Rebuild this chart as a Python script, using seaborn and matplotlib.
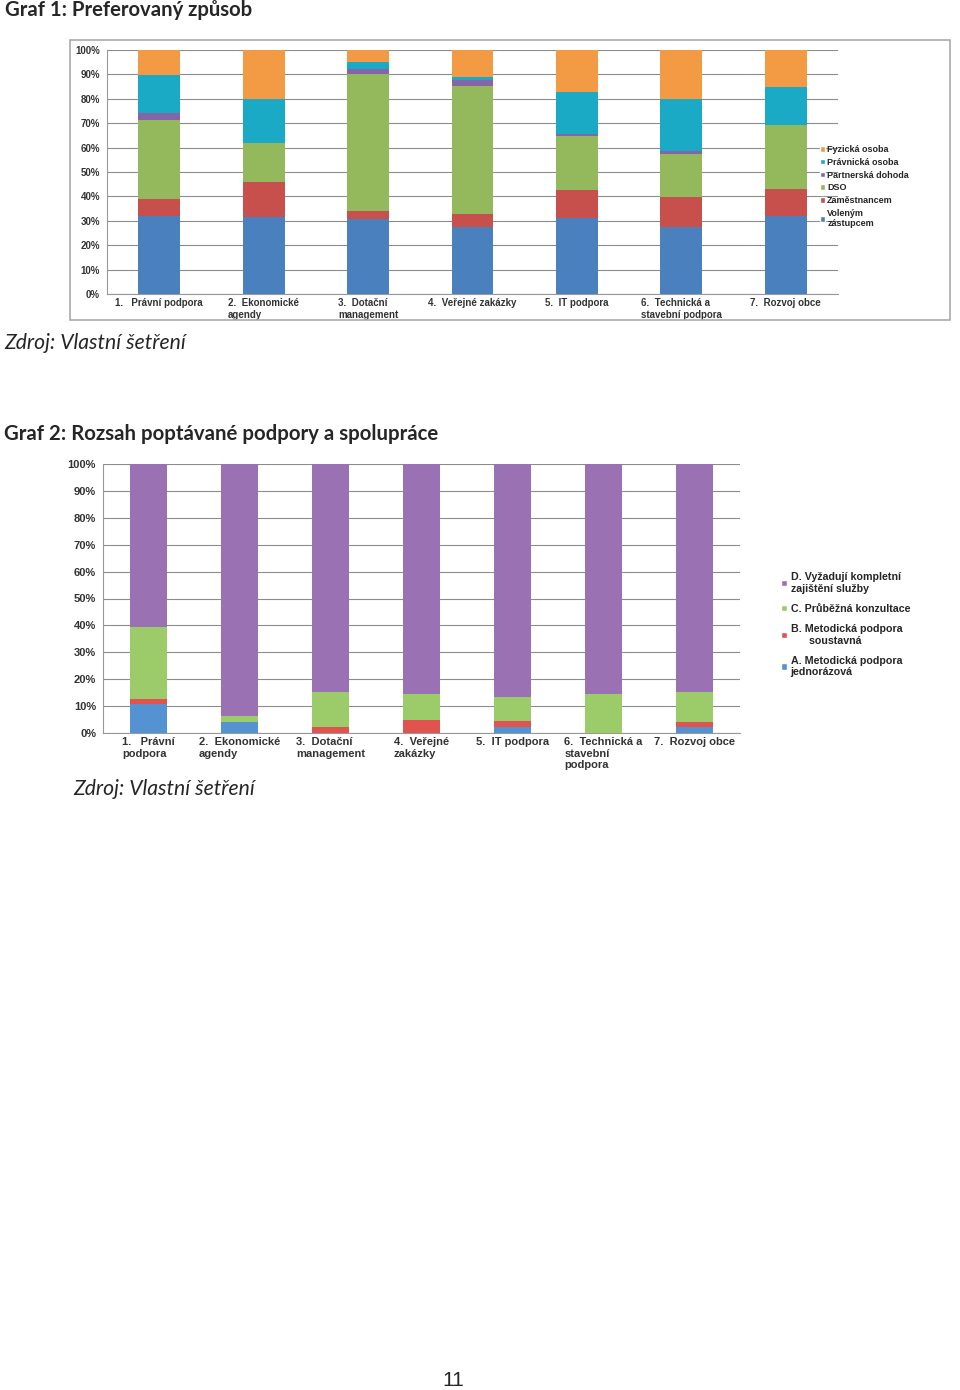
import numpy as np
import matplotlib
matplotlib.use("Agg")
import matplotlib.pyplot as plt
from matplotlib.patches import Rectangle, Patch
import seaborn as sns

# Graf 1 data (percent)
kategorie1 = ["1.   Právní podpora", "2.  Ekonomické\nagendy", "3.  Dotační\nmanagement",
              "4.  Veřejné zakázky", "5.  IT podpora", "6.  Technická a\nstavební podpora",
              "7.  Rozvoj obce"]
volenym = [31.9, 31.7, 30.8, 27.4, 31.2, 27.4, 32.1]
zamestnancem = [7.2, 14.0, 3.1, 5.4, 11.5, 12.5, 11.0]
dso = [32.2, 16.3, 56.4, 52.4, 21.9, 17.6, 26.1]
partnerska = [2.7, 0.0, 2.0, 2.5, 1.1, 1.0, 0.0]
pravnicka = [15.7, 18.0, 2.9, 1.4, 16.9, 21.5, 15.6]
fyzicka = [10.3, 20.0, 4.8, 10.9, 17.4, 20.0, 15.2]

# Graf 2 data (percent)
kategorie2 = ["1.   Právní\npodpora", "2.  Ekonomické\nagendy", "3.  Dotační\nmanagement",
              "4.  Veřejné\nzakázky", "5.  IT podpora", "6.  Technická a\nstavební\npodpora",
              "7.  Rozvoj obce"]
a_jednorazova = [10.6, 4.1, 0.0, 0.0, 2.2, 0.0, 2.2]
b_soustavna = [2.2, 0.0, 2.1, 4.7, 2.1, 0.0, 2.0]
c_konzultace = [26.5, 2.2, 13.2, 9.7, 9.2, 14.5, 11.0]
d_kompletni = [60.7, 93.7, 84.7, 85.6, 86.5, 85.5, 84.8]

sns.set_style("white")
plt.rcParams["font.family"] = ["Liberation Sans", "DejaVu Sans"]

fig = plt.figure(figsize=(9.6, 13.9), dpi=100)
W, H = 960, 1390


def px_axes(x0, y0, x1, y1):
    return fig.add_axes([x0 / W, 1 - y1 / H, (x1 - x0) / W, (y1 - y0) / H])


def stacked(ax, cats, series, labels, colors, fs):
    bottom = np.zeros(len(cats))
    handles = []
    for vals, lab, col in zip(series, labels, colors):
        sns.barplot(x=cats, y=vals, bottom=bottom, color=col, width=0.4, saturation=1,
                    errorbar=None, ax=ax, linewidth=0, zorder=3)
        bottom = bottom + np.array(vals)
        handles.append(Patch(facecolor=col, label=lab))
    ax.set_ylim(0, 100)
    ax.set_xlim(-0.5, len(cats) - 0.5)
    ax.set_yticks(range(0, 101, 10))
    ax.set_yticklabels([f"{v}%" for v in range(0, 101, 10)])
    ax.set_xticks(np.arange(-0.5, len(cats), 1), minor=True)
    ax.tick_params(axis="x", which="major", length=0, pad=3)
    ax.tick_params(axis="x", which="minor", length=3, color="#999999")
    ax.tick_params(axis="y", length=3, color="#999999", pad=2)
    ax.yaxis.grid(True, color="#8c8c8c", linewidth=0.8, zorder=0)
    ax.set_axisbelow(True)
    for s in ["top", "right"]:
        ax.spines[s].set_visible(False)
    for s in ["left", "bottom"]:
        ax.spines[s].set_color("#999999")
        ax.spines[s].set_linewidth(0.8)
    ax.set_xlabel("")
    ax.set_ylabel("")
    for lab in ax.get_xticklabels():
        lab.set_multialignment("left")
    for lab in ax.get_xticklabels() + ax.get_yticklabels():
        lab.set_fontsize(fs)
        lab.set_fontweight("bold")
        lab.set_color("#333333")
    return handles


head = ["Lato", "DejaVu Sans"]

# Graf 1
fig.text(5 / W, 1 - 10 / H, "Graf 1: Preferovaný způsob", fontsize=14.6, fontweight="bold",
         family=head, va="center", ha="left")
fig.patches.append(Rectangle((70 / W, 1 - 320 / H), 880 / W, 280 / H, transform=fig.transFigure,
                             fill=False, edgecolor="#aaaaaa", linewidth=1.2))
ax1 = px_axes(107, 50, 838, 294)
colors1 = ["#4a80bd", "#c8504c", "#93b95c", "#8466a8", "#1aaac6", "#f39a44"]
labels1 = ["Voleným\nzástupcem", "Zaměstnancem", "DSO", "Partnerská dohoda",
           "Právnická osoba", "Fyzická osoba"]
h1 = stacked(ax1, kategorie1, [volenym, zamestnancem, dso, partnerska, pravnicka, fyzicka],
             labels1, colors1, 7.0)
ax1.legend(handles=h1[::-1], loc="upper left", bbox_to_anchor=(820 / W, 1 - 145 / H),
           bbox_transform=fig.transFigure, frameon=False,
           prop={"weight": "bold", "size": 6.5}, handlelength=0.6, handleheight=0.6,
           handletextpad=0.2, labelspacing=0.42, borderpad=0, borderaxespad=0)

fig.text(4 / W, 1 - 343 / H, "Zdroj: Vlastní šetření", fontsize=15.2, fontstyle="italic",
         family=head, va="center", ha="left")

# Graf 2
fig.text(4 / W, 1 - 434 / H, "Graf 2: Rozsah poptávané podpory a spolupráce", fontsize=14.7,
         fontweight="bold", family=head, va="center", ha="left")
ax2 = px_axes(103, 464, 740, 733)
colors2 = ["#5592d2", "#e05450", "#9ccc6a", "#9a72b4"]
labels2 = ["A. Metodická podpora\njednorázová", "B. Metodická podpora\n      soustavná",
           "C. Průběžná konzultace", "D. Vyžadují kompletní\nzajištění služby"]
h2 = stacked(ax2, kategorie2, [a_jednorazova, b_soustavna, c_konzultace, d_kompletni],
             labels2, colors2, 8.0)
ax2.legend(handles=h2[::-1], loc="upper left", bbox_to_anchor=(781 / W, 1 - 572 / H),
           bbox_transform=fig.transFigure, frameon=False,
           prop={"weight": "bold", "size": 7.7}, handlelength=0.6, handleheight=0.6,
           handletextpad=0.3, labelspacing=0.95, borderpad=0, borderaxespad=0)

fig.text(73 / W, 1 - 789 / H, "Zdroj: Vlastní šetření", fontsize=15.2, fontstyle="italic",
         family=head, va="center", ha="left")

fig.text(453 / W, 1 - 1380 / H, "11", fontsize=15, va="center", ha="center")

fig.savefig("out.png", dpi=100, facecolor="white")
